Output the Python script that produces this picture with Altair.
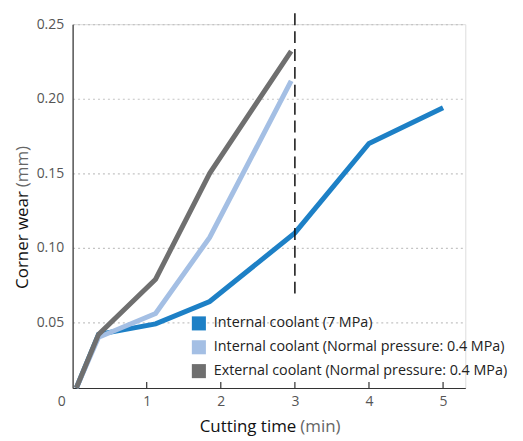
import altair as alt
import pandas as pd

series_names = [
    "Internal coolant (7 MPa)",
    "Internal coolant (Normal pressure: 0.4 MPa)",
    "External coolant (Normal pressure: 0.4 MPa)",
]
colors = ["#1d80c6", "#a4bfe4", "#6f6f6f"]

x_internal_7 = [0.05, 0.35, 1.12, 1.85, 3.0, 4.0, 5.0]
y_internal_7 = [0.006, 0.042, 0.049, 0.064, 0.110, 0.170, 0.194]
x_internal_04 = [0.05, 0.35, 1.12, 1.85, 2.95]
y_internal_04 = [0.006, 0.040, 0.056, 0.107, 0.212]
x_external_04 = [0.05, 0.35, 1.12, 1.85, 2.95]
y_external_04 = [0.006, 0.042, 0.079, 0.150, 0.232]

x_ticks = [1, 2, 3, 4, 5]
y_ticks = [0.05, 0.10, 0.15, 0.20, 0.25]
limit_time = [3]

rows = []
for name, xs, ys in zip(series_names,
                        [x_internal_7, x_internal_04, x_external_04],
                        [y_internal_7, y_internal_04, y_external_04]):
    for i, (a, b) in enumerate(zip(xs, ys)):
        rows.append({"series": name, "t": a, "wear": b, "order": i})
df = pd.DataFrame(rows)
legend_df = pd.DataFrame({"series": series_names, "row": list(range(len(series_names)))})

W, H = 395, 366
FONT = "Open Sans"

xscale = alt.Scale(domain=[0, 5.3], nice=False, zero=False)
yscale = alt.Scale(domain=[0.006, 0.25], nice=False, zero=False)
cscale = alt.Scale(domain=series_names, range=colors)

x_enc = alt.X("t:Q", scale=xscale,
              axis=alt.Axis(values=x_ticks, format="d", grid=False, ticks=False, title=None,
                            labelColor="#555", labelFontSize=14, labelFont=FONT,
                            labelPadding=7, domainColor="#333", domainWidth=1.2))
y_enc = alt.Y("wear:Q", scale=yscale,
              axis=alt.Axis(values=y_ticks, format=".2f", grid=True, ticks=False,
                            title=None, gridColor="#c4c4c4", gridDash=[2, 3],
                            gridWidth=1.2, labelColor="#555", labelFontSize=14,
                            labelFont=FONT, labelPadding=9, domainColor="#333",
                            domainWidth=1.2))

lines = alt.Chart(df).mark_line(strokeWidth=5, strokeJoin="miter").encode(
    x=x_enc, y=y_enc,
    color=alt.Color("series:N", scale=cscale, legend=None),
    order="order:Q",
    detail="series:N",
)

row_scale = alt.Scale(type="point", domain=[0, 1, 2], range=[301, 349], padding=0)
leg_sq = alt.Chart(legend_df).mark_square(size=200, opacity=1).encode(
    x=alt.value(127),
    y=alt.Y("row:O", scale=row_scale, axis=None),
    fill=alt.Fill("series:N", scale=cscale, legend=None),
)
leg_txt = alt.Chart(legend_df).mark_text(
    font=FONT, fontSize=14.4, color="#222", align="left", baseline="middle").encode(
    x=alt.value(142),
    y=alt.Y("row:O", scale=row_scale, axis=None),
    text="series:N",
)
legend = alt.layer(leg_sq, leg_txt)

tick_df = pd.DataFrame({"t": x_ticks})
ticks = alt.Chart(tick_df).mark_rule(color="#333", strokeWidth=1.2).encode(
    x="t:Q", y=alt.value(H), y2=alt.value(H - 6))

dash_df = pd.DataFrame({"t": limit_time})
dash = alt.Chart(dash_df).mark_rule(color="#111", strokeWidth=1.5, strokeDash=[12, 6]).encode(
    x="t:Q", y=alt.value(-11), y2=alt.value(277))

zero_df = pd.DataFrame({"t": [0], "lab": ["0"]})
zero = alt.Chart(zero_df).mark_text(font=FONT, fontSize=14, color="#555", dx=-11,
                                    baseline="top", align="center").encode(
    x="t:Q", y=alt.value(H + 7), text="lab:N")

xt1 = alt.Chart(pd.DataFrame({"s": ["Cutting time"]})).mark_text(
    font=FONT, fontSize=17, color="#111", align="right", baseline="middle").encode(
    x=alt.value(225), y=alt.value(405), text="s:N")
xt2 = alt.Chart(pd.DataFrame({"s": ["(min)"]})).mark_text(
    font=FONT, fontSize=17, color="#666", align="left", baseline="middle").encode(
    x=alt.value(229), y=alt.value(405), text="s:N")
yt1 = alt.Chart(pd.DataFrame({"s": ["Corner wear"]})).mark_text(
    font=FONT, fontSize=17, color="#111", align="right", baseline="middle", angle=270).encode(
    x=alt.value(-50), y=alt.value(168), text="s:N")
yt2 = alt.Chart(pd.DataFrame({"s": ["(mm)"]})).mark_text(
    font=FONT, fontSize=17, color="#666", align="left", baseline="middle", angle=270).encode(
    x=alt.value(-50), y=alt.value(164), text="s:N")

chart = alt.layer(lines, legend, ticks, dash, zero, xt1, xt2, yt1, yt2).resolve_scale(
    y="independent"
).properties(
    width=W, height=H,
    autosize=alt.AutoSizeParams(type="none"),
    padding={"left": 65, "top": 15, "right": 50, "bottom": 50},
).configure_view(stroke=None).configure(background="white")

chart.save("out.html", embed_options={"renderer": "svg", "actions": False})
